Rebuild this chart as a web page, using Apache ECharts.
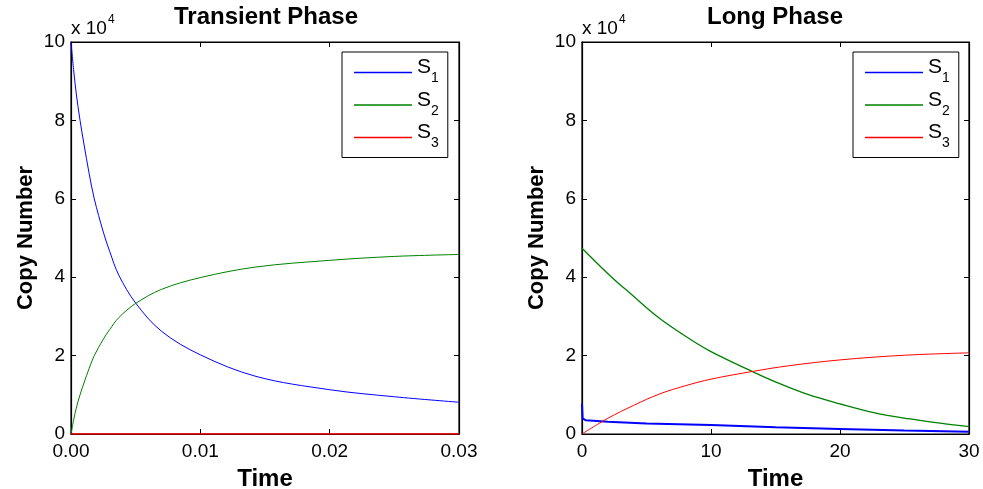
<!DOCTYPE html>
<html>
<head>
<meta charset="utf-8">
<script src="https://cdn.jsdelivr.net/npm/echarts@6/dist/echarts.min.js"></script>
<style>
html,body{margin:0;padding:0;background:#fff;}
#c{width:983px;height:489px;}
</style>
</head>
<body>
<div id="c"></div>
<script>
// ---- Data (copy numbers) ----
const transientTime = [0, 0.0002, 0.0004, 0.0007, 0.001, 0.0014, 0.0018, 0.0025, 0.003, 0.0037, 0.005, 0.007, 0.01, 0.0143, 0.02, 0.025, 0.03];
const transientS1 = [100000, 93000, 87000, 80000, 74000, 66500, 60000, 51500, 46500, 40500, 33400, 26200, 20200, 14700, 11300, 9500, 8100];
const transientS2 = [0, 3500, 6500, 10000, 13000, 16700, 20000, 24200, 26700, 29700, 33300, 36900, 39900, 42600, 44300, 45300, 45800];
const transientS3Time = [0, 0.01, 0.02, 0.03];
const transientS3 = [0, 0, 0, 0];

const longS1Time = [0, 0.05, 0.3, 2, 5, 10, 15, 20, 25, 30];
const longS1 = [7800, 4000, 3500, 3100, 2700, 2300, 1700, 1300, 900, 600];
const longS2Time = [0, 2.3, 3.8, 5.9, 8, 10, 13.3, 15, 17.5, 20, 22.7, 25.3, 27.9, 30];
const longS2 = [47400, 40000, 35700, 29800, 25000, 21000, 15800, 13300, 10100, 7700, 5400, 3900, 2700, 1900];
const longS3Time = [0, 2, 4, 6, 8, 10, 13.3, 16, 20, 25, 30];
const longS3 = [0, 4000, 7300, 10200, 12300, 14000, 16000, 17400, 18900, 20100, 20700];

const seriesNames = ['S1', 'S2', 'S3'];
const seriesColors = ['#0000ff', '#008000', '#ff0000'];
const panelTitles = ['Transient Phase', 'Long Phase'];
const xLabelName = 'Time';
const yLabelName = 'Copy Number';
const yScaleLabel = ['x 10', '4'];

const FONT = 'Liberation Sans, Arial, Helvetica, sans-serif';
const zip = (xs, ys) => xs.map((x, i) => [x, ys[i]]);

const chart = echarts.init(document.getElementById('c'), null, {renderer: 'canvas'});

function xAxisPair(gridIndex, max, interval, fmt) {
  const common = {
    type: 'value', gridIndex, min: 0, max, interval,
    axisLine: {show: true, onZero: false, lineStyle: {color: '#000', width: 1.2}},
    axisTick: {show: true, inside: true, length: 5, lineStyle: {color: '#000'}},
    splitLine: {show: false}
  };
  return [
    Object.assign({}, common, {
      position: 'bottom',
      name: xLabelName, nameLocation: 'middle', nameGap: 33,
      nameTextStyle: {fontFamily: FONT, fontSize: 24, fontWeight: 'bold', color: '#000'},
      axisLabel: {fontFamily: FONT, fontSize: 19, color: '#000', margin: 8, formatter: fmt}
    }),
    Object.assign({}, common, {position: 'top', axisLabel: {show: false}})
  ];
}
function yAxisPair(gridIndex) {
  const common = {
    type: 'value', gridIndex, min: 0, max: 100000, interval: 20000,
    axisLine: {show: true, onZero: false, lineStyle: {color: '#000', width: 1.2}},
    axisTick: {show: true, inside: true, length: 5, lineStyle: {color: '#000'}},
    splitLine: {show: false}
  };
  return [
    Object.assign({}, common, {
      position: 'left',
      name: yLabelName, nameLocation: 'middle', nameGap: 34,
      nameTextStyle: {fontFamily: FONT, fontSize: 22, fontWeight: 'bold', color: '#000'},
      axisLabel: {fontFamily: FONT, fontSize: 19, color: '#000', margin: 6,
        formatter: v => String(Math.round(v / 10000))}
    }),
    Object.assign({}, common, {position: 'right', axisLabel: {show: false}})
  ];
}

function legendFor(left) {
  return {
    left, top: 52, orient: 'vertical',
    data: seriesNames.map((n, i) => ({name: n, itemStyle: {color: seriesColors[i]}})),
    icon: 'rect', itemWidth: 58, itemHeight: 1.5, itemGap: 4,
    borderColor: '#000', borderWidth: 1, padding: [5, 9, 7, 12],
    backgroundColor: '#fff',
    selectedMode: false,
    formatter: n => '{s|S}{sub|' + n.slice(1) + '}',
    textStyle: {
      fontFamily: FONT, color: '#000',
      rich: {
        s: {fontFamily: FONT, fontSize: 21, color: '#000', padding: [0, 0, 10, 0]},
        sub: {fontFamily: FONT, fontSize: 14, color: '#000', padding: [12, 0, 0, 0]}
      }
    }
  };
}

function scaleLabel(x) {
  return {
    type: 'text', left: x, top: 14,
    style: {
      text: '{a|' + yScaleLabel[0] + '}{b|' + yScaleLabel[1] + '}',
      rich: {
        a: {fontFamily: FONT, fontSize: 19, fill: '#000', padding: [8, 0, 0, 0]},
        b: {fontFamily: FONT, fontSize: 12, fill: '#000', padding: [0, 0, 10, 1]}
      }
    }
  };
}

function line(name, data, xi, yi, color, width, smooth) {
  return {
    name, type: 'line', data, xAxisIndex: xi, yAxisIndex: yi,
    symbol: 'none', showSymbol: false, smooth: smooth ? 0.35 : false,
    lineStyle: {color, width}, itemStyle: {color}, animation: false, z: 3
  };
}

const gridCommon = {top: 42, bottom: 55, show: true, borderColor: '#000', borderWidth: 1.2,
  containLabel: false, outerBoundsMode: 'none'};

const option = {
  backgroundColor: '#fff',
  animation: false,
  title: [
    {text: panelTitles[0], left: 261, top: 0, textAlign: 'center',
     textStyle: {fontFamily: FONT, fontSize: 24, fontWeight: 'bold', color: '#000'}},
    {text: panelTitles[1], left: 770, top: 0, textAlign: 'center',
     textStyle: {fontFamily: FONT, fontSize: 24, fontWeight: 'bold', color: '#000'}}
  ],
  grid: [
    Object.assign({left: 71, right: 524}, gridCommon),
    Object.assign({left: 582, right: 14}, gridCommon)
  ],
  graphic: [scaleLabel(71), scaleLabel(582)],
  xAxis: [
    ...xAxisPair(0, 0.03, 0.01, v => v.toFixed(2)),
    ...xAxisPair(1, 30, 10, v => String(Math.round(v)))
  ],
  yAxis: [
    ...yAxisPair(0),
    ...yAxisPair(1)
  ],
  legend: [legendFor(342), legendFor(853)],
  series: [
    line(seriesNames[0], zip(transientTime, transientS1), 0, 0, seriesColors[0], 1, true),
    line(seriesNames[1], zip(transientTime, transientS2), 0, 0, seriesColors[1], 1, true),
    line(seriesNames[2], zip(transientS3Time, transientS3), 0, 0, seriesColors[2], 1.5, false),
    line(seriesNames[0], zip(longS1Time, longS1), 2, 2, seriesColors[0], 2, false),
    line(seriesNames[1], zip(longS2Time, longS2), 2, 2, seriesColors[1], 1.3, true),
    line(seriesNames[2], zip(longS3Time, longS3), 2, 2, seriesColors[2], 1, true)
  ]
};
chart.setOption(option);
</script>
</body>
</html>
